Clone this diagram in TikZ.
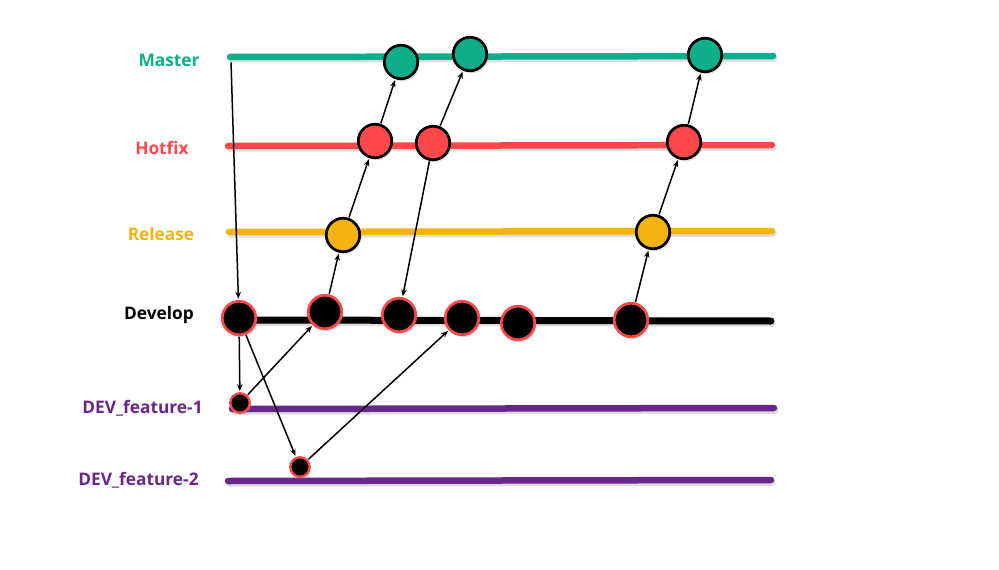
\documentclass[tikz,border=0pt]{standalone}
\usepackage{fontspec}
\setmainfont{Open Sans}
\usetikzlibrary{arrows.meta,shadows}
\definecolor{cmaster}{RGB}{14,174,138}
\definecolor{chotfix}{RGB}{255,72,74}
\definecolor{crelease}{RGB}{246,178,14}
\definecolor{cfeature}{RGB}{106,37,142}
\begin{document}
\begin{tikzpicture}[x=1pt,y=-1pt,
  branch/.style={line width=6.5pt,line cap=round},
  bshadow/.style={line width=6.5pt,line cap=round,black,opacity=.13,shift={(1.5,2.5)}},
  lab/.style={font=\fontsize{17.3}{19}\selectfont\bfseries,inner sep=0pt},
  commit/.style={circle,inner sep=0pt,minimum size=33.5pt,line width=2.7pt,
     drop shadow={shadow xshift=1.5pt,shadow yshift=-2.5pt,opacity=.25}},
  mc/.style={commit,draw=black,fill=cmaster},
  hc/.style={commit,draw=black,fill=chotfix},
  rc/.style={commit,draw=black,fill=crelease},
  dc/.style={commit,draw=chotfix,fill=black},
  fc/.style={commit,draw=chotfix,fill=black,minimum size=19.5pt,line width=2.3pt},
  arr/.style={line width=1.5pt,-{Stealth[length=7pt,width=5.5pt]},shorten >=1pt,shorten <=0.5pt}
]
\useasboundingbox[fill=white] (0,0) rectangle (999,570);

% branch lines (shadows)
\draw[bshadow] (230,57) -- (773,56);
\draw[bshadow] (228,146) -- (772,145);
\draw[bshadow] (229,232) -- (772,231);
\draw[bshadow] (240,320) -- (771,321);
\draw[bshadow] (232,409) -- (774,408);
\draw[bshadow] (228,481) -- (771,480);
% branch lines
\draw[branch,cmaster] (230,57) -- (773,56);
\draw[branch,chotfix] (228,146) -- (772,145);
\draw[branch,crelease] (229,232) -- (772,231);
\draw[branch,black,line width=7pt] (240,320) -- (771,321);
\draw[branch,cfeature] (232,409) -- (774,408);
\draw[branch,cfeature] (228,481) -- (771,480);

% labels
\node[lab,text=cmaster] (lM) at (169,60) {Master};
\node[lab,text=chotfix] (lH) at (162,148) {Hotfix};
\node[lab,text=crelease] (lR) at (161,234) {Release};
\node[lab,text=black] (lD) at (159,315) {Develop};
\node[lab,text=cfeature] (lF1) at (142.5,408) {DEV\_feature-1};
\node[lab,text=cfeature] (lF2) at (138.5,480) {DEV\_feature-2};

% commits
\node[mc] (M1) at (401,62) {};
\node[mc] (M2) at (470,54) {};
\node[mc] (M3) at (705,55) {};
\node[hc] (H1) at (375,141) {};
\node[hc] (H2) at (433,143) {};
\node[hc] (H3) at (684,142) {};
\node[rc] (R1) at (343,235) {};
\node[rc] (R2) at (653,232) {};
\node[dc] (D1) at (239,318) {};
\node[dc] (D2) at (325,312) {};
\node[dc] (D3) at (399,315) {};
\node[dc] (D4) at (462,318) {};
\node[dc] (D5) at (518,323) {};
\node[dc] (D6) at (631,320) {};
\node[fc] (F1) at (240,403) {};
\node[fc] (F2) at (300,467) {};

\coordinate (ms) at (231,62);

% connectors
\draw[arr] (ms) -- (D1);
\draw[arr] (D1) -- (F1);
\draw[arr] (D1) -- (F2);
\draw[arr] (F1) -- (D2);
\draw[arr] (F2) -- (D4);
\draw[arr] (D2) -- (R1);
\draw[arr] (R1) -- (H1);
\draw[arr] (H1) -- (M1);
\draw[arr] (H2) -- (M2);
\draw[arr] (H2) -- (D3);
\draw[arr] (D6) -- (R2);
\draw[arr] (R2) -- (H3);
\draw[arr] (H3) -- (M3);
\end{tikzpicture}
\end{document}
